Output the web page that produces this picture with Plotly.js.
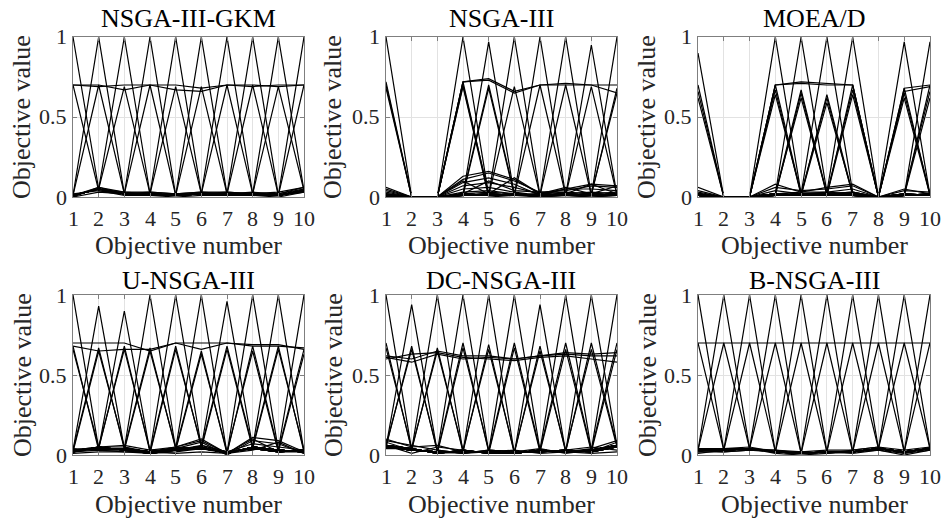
<!DOCTYPE html>
<html>
<head>
<meta charset="utf-8">
<script src="https://cdn.plot.ly/plotly-3.0.1.min.js"></script>
<style>html,body{margin:0;padding:0;background:#fff}#chart{width:945px;height:524px}</style>
</head>
<body>
<div id="chart"></div>
<script>
const objectives = [1, 2, 3, 4, 5, 6, 7, 8, 9, 10];
const objectiveLabels = ['1', '2', '3', '4', '5', '6', '7', '8', '9', '10'];
const valueTicks = [0, 0.5, 1];
const valueLabels = ['0', '0.5', '1'];
const panelTitles = ['NSGA-III-GKM', 'NSGA-III', 'MOEA/D', 'U-NSGA-III', 'DC-NSGA-III', 'B-NSGA-III'];
const xAxisTitle = 'Objective number';
const yAxisTitle = 'Objective value';

const gkmLines = [
  [1.00,0.05,0.02,0.02,0.01,0.02,0.02,0.02,0.01,0.04],
  [0.01,1.00,0.02,0.02,0.01,0.02,0.02,0.02,0.01,0.04],
  [0.01,0.05,1.00,0.02,0.01,0.02,0.02,0.02,0.01,0.04],
  [0.01,0.05,0.02,1.00,0.01,0.02,0.02,0.02,0.01,0.04],
  [0.01,0.05,0.02,0.02,1.00,0.02,0.02,0.02,0.01,0.04],
  [0.01,0.05,0.02,0.02,0.01,1.00,0.02,0.02,0.01,0.04],
  [0.01,0.05,0.02,0.02,0.01,0.02,1.00,0.02,0.01,0.04],
  [0.01,0.05,0.02,0.02,0.01,0.02,0.02,1.00,0.01,0.04],
  [0.01,0.05,0.02,0.02,0.01,0.02,0.02,0.02,1.00,0.04],
  [0.01,0.05,0.02,0.02,0.01,0.02,0.02,0.02,0.01,1.00],
  [0.70,0.04,0.02,0.02,0.01,0.02,0.02,0.02,0.01,0.03],
  [0.01,0.70,0.02,0.02,0.01,0.02,0.02,0.02,0.01,0.04],
  [0.01,0.05,0.69,0.02,0.01,0.02,0.02,0.02,0.01,0.04],
  [0.01,0.05,0.02,0.70,0.01,0.02,0.02,0.02,0.01,0.04],
  [0.01,0.05,0.02,0.02,0.69,0.02,0.02,0.02,0.01,0.04],
  [0.01,0.05,0.02,0.02,0.01,0.69,0.02,0.02,0.01,0.04],
  [0.01,0.05,0.02,0.02,0.01,0.02,0.70,0.02,0.01,0.04],
  [0.01,0.05,0.02,0.02,0.01,0.02,0.02,0.70,0.01,0.04],
  [0.01,0.05,0.02,0.02,0.01,0.02,0.02,0.02,0.69,0.04],
  [0.01,0.05,0.02,0.02,0.01,0.02,0.02,0.02,0.01,0.70],
  [0.70,0.70,0.67,0.70,0.67,0.66,0.70,0.70,0.69,0.70],
  [0.70,0.69,0.70,0.70,0.70,0.68,0.70,0.69,0.70,0.70],
  [0.00,0.06,0.03,0.03,0.02,0.03,0.03,0.02,0.02,0.05],
  [0.02,0.04,0.01,0.01,0.00,0.01,0.01,0.01,0.00,0.03],
  [0.01,0.06,0.02,0.03,0.02,0.02,0.03,0.02,0.03,0.06],
  [0.00,0.03,0.02,0.01,0.01,0.02,0.02,0.01,0.01,0.05],
  [0.01,0.05,0.03,0.02,0.02,0.03,0.02,0.03,0.02,0.06]
];

const nsga3Lines = [
  [1.00,0.00,0.00,0.01,0.02,0.01,0.00,0.01,0.00,0.01],
  [0.00,0.00,0.00,1.00,0.01,0.02,0.01,0.01,0.00,0.01],
  [0.00,0.00,0.00,0.01,0.97,0.01,0.01,0.02,0.01,0.02],
  [0.00,0.00,0.00,0.02,0.01,1.00,0.01,0.01,0.01,0.02],
  [0.00,0.00,0.00,0.01,0.02,0.01,1.00,0.01,0.02,0.01],
  [0.00,0.00,0.00,0.01,0.01,0.02,0.01,1.00,0.01,0.02],
  [0.00,0.00,0.00,0.02,0.01,0.01,0.02,0.01,0.95,0.01],
  [0.00,0.00,0.00,0.01,0.02,0.01,0.01,0.02,0.01,1.00],
  [0.72,0.00,0.00,0.02,0.03,0.02,0.01,0.02,0.01,0.02],
  [0.70,0.00,0.00,0.01,0.02,0.01,0.01,0.01,0.02,0.01],
  [0.68,0.00,0.00,0.02,0.01,0.02,0.00,0.02,0.01,0.02],
  [0.01,0.00,0.00,0.72,0.01,0.02,0.01,0.02,0.01,0.02],
  [0.02,0.00,0.00,0.70,0.02,0.01,0.01,0.01,0.01,0.01],
  [0.00,0.00,0.00,0.69,0.00,0.01,0.01,0.02,0.01,0.02],
  [0.01,0.00,0.00,0.02,0.70,0.02,0.01,0.02,0.01,0.02],
  [0.01,0.00,0.00,0.01,0.68,0.01,0.02,0.01,0.02,0.01],
  [0.01,0.00,0.00,0.02,0.01,0.69,0.01,0.02,0.01,0.02],
  [0.01,0.00,0.00,0.01,0.02,0.01,0.70,0.01,0.02,0.01],
  [0.01,0.00,0.00,0.02,0.01,0.02,0.01,0.70,0.01,0.02],
  [0.01,0.00,0.00,0.01,0.02,0.01,0.02,0.01,0.69,0.01],
  [0.01,0.00,0.00,0.02,0.01,0.02,0.01,0.02,0.01,0.68],
  [0.02,0.00,0.00,0.01,0.02,0.01,0.02,0.01,0.02,0.65],
  [0.02,0.00,0.00,0.72,0.74,0.66,0.70,0.71,0.70,0.70],
  [0.01,0.00,0.00,0.72,0.73,0.65,0.70,0.70,0.70,0.65],
  [0.06,0.00,0.00,0.13,0.16,0.11,0.02,0.05,0.08,0.07],
  [0.05,0.00,0.00,0.11,0.15,0.10,0.03,0.04,0.07,0.06],
  [0.03,0.00,0.00,0.09,0.12,0.08,0.01,0.05,0.05,0.04],
  [0.02,0.00,0.00,0.07,0.09,0.06,0.02,0.03,0.02,0.03],
  [0.01,0.00,0.00,0.05,0.06,0.03,0.01,0.02,0.03,0.02],
  [0.00,0.00,0.00,0.03,0.04,0.02,0.00,0.01,0.01,0.01],
  [0.04,0.00,0.00,0.10,0.02,0.12,0.02,0.06,0.02,0.07],
  [0.01,0.00,0.00,0.02,0.10,0.04,0.03,0.02,0.08,0.02]
];

const moeadLines = [
  [0.90,0.00,0.00,0.01,0.02,0.01,0.01,0.00,0.01,0.01],
  [0.01,0.00,0.00,1.00,0.02,0.02,0.03,0.00,0.01,0.01],
  [0.01,0.00,0.00,0.02,1.00,0.03,0.02,0.00,0.01,0.01],
  [0.01,0.00,0.00,0.02,0.02,1.00,0.03,0.00,0.01,0.01],
  [0.01,0.00,0.00,0.02,0.03,0.03,1.00,0.00,0.01,0.01],
  [0.01,0.00,0.00,0.01,0.02,0.02,0.02,0.00,0.97,0.01],
  [0.01,0.00,0.00,0.01,0.02,0.02,0.02,0.00,0.01,0.97],
  [0.70,0.00,0.00,0.01,0.02,0.01,0.02,0.00,0.01,0.01],
  [0.66,0.00,0.00,0.02,0.01,0.02,0.01,0.00,0.02,0.01],
  [0.62,0.00,0.00,0.01,0.02,0.01,0.02,0.00,0.01,0.02],
  [0.02,0.00,0.00,0.70,0.02,0.01,0.02,0.00,0.01,0.01],
  [0.01,0.00,0.00,0.67,0.01,0.02,0.01,0.00,0.02,0.01],
  [0.02,0.00,0.00,0.64,0.02,0.01,0.02,0.00,0.01,0.02],
  [0.01,0.00,0.00,0.02,0.67,0.02,0.01,0.00,0.01,0.01],
  [0.02,0.00,0.00,0.01,0.65,0.01,0.02,0.00,0.02,0.01],
  [0.01,0.00,0.00,0.02,0.62,0.02,0.01,0.00,0.01,0.02],
  [0.01,0.00,0.00,0.02,0.01,0.64,0.02,0.00,0.01,0.01],
  [0.02,0.00,0.00,0.01,0.02,0.62,0.01,0.00,0.02,0.01],
  [0.01,0.00,0.00,0.02,0.01,0.59,0.02,0.00,0.01,0.02],
  [0.01,0.00,0.00,0.01,0.02,0.01,0.70,0.00,0.01,0.01],
  [0.02,0.00,0.00,0.02,0.01,0.02,0.67,0.00,0.02,0.01],
  [0.01,0.00,0.00,0.01,0.02,0.01,0.64,0.00,0.01,0.02],
  [0.01,0.00,0.00,0.02,0.01,0.02,0.01,0.00,0.68,0.01],
  [0.02,0.00,0.00,0.01,0.02,0.01,0.02,0.00,0.65,0.02],
  [0.01,0.00,0.00,0.02,0.01,0.02,0.01,0.00,0.62,0.01],
  [0.01,0.00,0.00,0.01,0.02,0.01,0.02,0.00,0.01,0.70],
  [0.02,0.00,0.00,0.02,0.01,0.02,0.01,0.00,0.02,0.66],
  [0.01,0.00,0.00,0.01,0.02,0.01,0.02,0.00,0.01,0.62],
  [0.02,0.00,0.00,0.70,0.72,0.71,0.70,0.00,0.02,0.01],
  [0.01,0.00,0.00,0.70,0.71,0.70,0.70,0.00,0.01,0.02],
  [0.01,0.00,0.00,0.02,0.01,0.02,0.02,0.00,0.68,0.70],
  [0.02,0.00,0.00,0.01,0.02,0.01,0.01,0.00,0.66,0.69],
  [0.06,0.00,0.00,0.08,0.03,0.06,0.08,0.00,0.05,0.02],
  [0.04,0.00,0.00,0.06,0.04,0.05,0.07,0.00,0.04,0.03],
  [0.03,0.00,0.00,0.04,0.02,0.03,0.05,0.00,0.02,0.01],
  [0.02,0.00,0.00,0.02,0.01,0.02,0.03,0.00,0.01,0.02]
];

const unsga3Lines = [
  [1.00,0.04,0.04,0.02,0.04,0.05,0.01,0.05,0.03,0.02],
  [0.03,0.93,0.04,0.02,0.04,0.05,0.01,0.05,0.03,0.02],
  [0.03,0.04,0.90,0.02,0.04,0.05,0.01,0.05,0.03,0.02],
  [0.03,0.04,0.04,1.00,0.04,0.05,0.01,0.05,0.03,0.02],
  [0.03,0.04,0.04,0.02,1.00,0.05,0.01,0.05,0.03,0.02],
  [0.03,0.04,0.04,0.02,0.04,1.00,0.01,0.05,0.03,0.02],
  [0.03,0.04,0.04,0.02,0.04,0.05,0.96,0.05,0.03,0.02],
  [0.03,0.04,0.04,0.02,0.04,0.05,0.01,1.00,0.03,0.02],
  [0.03,0.04,0.04,0.02,0.04,0.05,0.01,0.05,1.00,0.02],
  [0.03,0.04,0.04,0.02,0.04,0.05,0.01,0.05,0.03,1.00],
  [0.68,0.03,0.04,0.02,0.04,0.05,0.01,0.05,0.03,0.02],
  [0.66,0.05,0.03,0.01,0.03,0.04,0.02,0.04,0.02,0.03],
  [0.03,0.67,0.04,0.02,0.04,0.05,0.01,0.05,0.03,0.02],
  [0.02,0.65,0.05,0.01,0.03,0.04,0.02,0.04,0.02,0.03],
  [0.03,0.04,0.68,0.02,0.04,0.05,0.01,0.05,0.03,0.02],
  [0.02,0.05,0.66,0.03,0.03,0.04,0.02,0.04,0.02,0.03],
  [0.03,0.04,0.04,0.67,0.04,0.05,0.01,0.05,0.03,0.02],
  [0.02,0.05,0.03,0.65,0.05,0.04,0.02,0.04,0.02,0.03],
  [0.03,0.04,0.04,0.02,0.68,0.05,0.01,0.05,0.03,0.02],
  [0.02,0.05,0.03,0.01,0.66,0.06,0.02,0.04,0.02,0.03],
  [0.03,0.04,0.04,0.02,0.04,0.65,0.01,0.05,0.03,0.02],
  [0.02,0.05,0.03,0.01,0.03,0.63,0.02,0.04,0.02,0.03],
  [0.03,0.04,0.04,0.02,0.04,0.05,0.68,0.05,0.03,0.02],
  [0.02,0.05,0.03,0.01,0.03,0.04,0.66,0.04,0.02,0.03],
  [0.03,0.04,0.04,0.02,0.04,0.05,0.01,0.68,0.03,0.02],
  [0.02,0.05,0.03,0.01,0.03,0.04,0.02,0.65,0.02,0.03],
  [0.03,0.04,0.04,0.02,0.04,0.05,0.01,0.05,0.68,0.02],
  [0.02,0.05,0.03,0.01,0.03,0.04,0.02,0.04,0.66,0.03],
  [0.03,0.04,0.04,0.02,0.04,0.05,0.01,0.05,0.03,0.66],
  [0.02,0.05,0.03,0.01,0.03,0.04,0.02,0.04,0.02,0.63],
  [0.70,0.70,0.70,0.65,0.70,0.70,0.70,0.69,0.69,0.66],
  [0.68,0.65,0.66,0.66,0.70,0.66,0.70,0.68,0.68,0.67],
  [0.03,0.05,0.05,0.02,0.05,0.10,0.01,0.11,0.09,0.02],
  [0.02,0.04,0.04,0.01,0.04,0.08,0.00,0.09,0.07,0.01],
  [0.04,0.03,0.03,0.02,0.03,0.06,0.02,0.07,0.05,0.03],
  [0.01,0.02,0.02,0.01,0.02,0.04,0.01,0.05,0.03,0.02],
  [0.03,0.05,0.06,0.03,0.05,0.09,0.01,0.03,0.08,0.01],
  [0.02,0.03,0.02,0.02,0.01,0.02,0.01,0.10,0.02,0.02]
];

const dcnsga3Lines = [
  [1.00,0.03,0.02,0.02,0.02,0.01,0.03,0.02,0.03,0.06],
  [0.05,0.94,0.02,0.02,0.02,0.01,0.03,0.02,0.03,0.06],
  [0.05,0.03,1.00,0.02,0.02,0.01,0.03,0.02,0.03,0.06],
  [0.05,0.03,0.02,1.00,0.02,0.01,0.03,0.02,0.03,0.06],
  [0.05,0.03,0.02,0.02,1.00,0.01,0.03,0.02,0.03,0.06],
  [0.05,0.03,0.02,0.02,0.02,1.00,0.03,0.02,0.03,0.06],
  [0.05,0.03,0.02,0.02,0.02,0.01,0.94,0.02,0.03,0.06],
  [0.05,0.03,0.02,0.02,0.02,0.01,0.03,1.00,0.03,0.06],
  [0.05,0.03,0.02,0.02,0.02,0.01,0.03,0.02,1.00,0.06],
  [0.05,0.03,0.02,0.02,0.02,0.01,0.03,0.02,0.03,1.00],
  [0.70,0.03,0.02,0.02,0.02,0.01,0.03,0.02,0.03,0.06],
  [0.67,0.04,0.01,0.03,0.01,0.02,0.02,0.03,0.02,0.05],
  [0.05,0.68,0.02,0.02,0.02,0.01,0.03,0.02,0.03,0.06],
  [0.06,0.66,0.03,0.01,0.03,0.02,0.02,0.03,0.02,0.05],
  [0.05,0.03,0.67,0.02,0.02,0.01,0.03,0.02,0.03,0.06],
  [0.06,0.04,0.65,0.03,0.01,0.02,0.02,0.03,0.02,0.05],
  [0.05,0.03,0.02,0.70,0.02,0.01,0.03,0.02,0.03,0.06],
  [0.06,0.04,0.01,0.67,0.03,0.02,0.02,0.03,0.02,0.05],
  [0.05,0.03,0.02,0.02,0.69,0.01,0.03,0.02,0.03,0.06],
  [0.06,0.04,0.01,0.03,0.66,0.02,0.02,0.03,0.02,0.05],
  [0.05,0.03,0.02,0.02,0.02,0.70,0.03,0.02,0.03,0.06],
  [0.06,0.04,0.01,0.03,0.01,0.67,0.02,0.03,0.02,0.05],
  [0.05,0.03,0.02,0.02,0.02,0.01,0.68,0.02,0.03,0.06],
  [0.06,0.04,0.01,0.03,0.01,0.02,0.65,0.03,0.02,0.05],
  [0.05,0.03,0.02,0.02,0.02,0.01,0.03,0.70,0.03,0.06],
  [0.06,0.04,0.01,0.03,0.01,0.02,0.02,0.66,0.02,0.05],
  [0.05,0.03,0.02,0.02,0.02,0.01,0.03,0.02,0.70,0.06],
  [0.06,0.04,0.01,0.03,0.01,0.02,0.02,0.03,0.66,0.05],
  [0.05,0.03,0.02,0.02,0.02,0.01,0.03,0.02,0.03,0.70],
  [0.06,0.04,0.01,0.03,0.01,0.02,0.02,0.03,0.02,0.66],
  [0.62,0.60,0.65,0.62,0.62,0.60,0.62,0.64,0.63,0.64],
  [0.60,0.63,0.64,0.61,0.60,0.59,0.61,0.62,0.60,0.58],
  [0.61,0.58,0.63,0.60,0.61,0.60,0.62,0.63,0.62,0.62],
  [0.10,0.05,0.06,0.02,0.02,0.01,0.03,0.02,0.04,0.09],
  [0.08,0.03,0.02,0.01,0.03,0.02,0.04,0.01,0.03,0.06],
  [0.06,0.01,0.05,0.03,0.01,0.02,0.02,0.03,0.05,0.03],
  [0.04,0.04,0.01,0.02,0.02,0.01,0.03,0.02,0.01,0.02],
  [0.09,0.06,0.03,0.01,0.02,0.03,0.01,0.02,0.02,0.08]
];

const bnsga3Lines = [
  [1.00,0.03,0.04,0.02,0.01,0.02,0.02,0.04,0.02,0.04],
  [0.03,1.00,0.04,0.02,0.01,0.02,0.02,0.04,0.02,0.04],
  [0.03,0.03,1.00,0.02,0.01,0.02,0.02,0.04,0.02,0.04],
  [0.03,0.03,0.04,1.00,0.01,0.02,0.02,0.04,0.02,0.04],
  [0.03,0.03,0.04,0.02,1.00,0.02,0.02,0.04,0.02,0.04],
  [0.03,0.03,0.04,0.02,0.01,1.00,0.02,0.04,0.02,0.04],
  [0.03,0.03,0.04,0.02,0.01,0.02,1.00,0.04,0.02,0.04],
  [0.03,0.03,0.04,0.02,0.01,0.02,0.02,1.00,0.02,0.04],
  [0.03,0.03,0.04,0.02,0.01,0.02,0.02,0.04,1.00,0.04],
  [0.03,0.03,0.04,0.02,0.01,0.02,0.02,0.04,0.02,1.00],
  [0.70,0.03,0.04,0.02,0.01,0.02,0.02,0.04,0.02,0.04],
  [0.03,0.70,0.04,0.02,0.01,0.02,0.02,0.04,0.02,0.04],
  [0.03,0.03,0.70,0.02,0.01,0.02,0.02,0.04,0.02,0.04],
  [0.03,0.03,0.04,0.70,0.01,0.02,0.02,0.04,0.02,0.04],
  [0.03,0.03,0.04,0.02,0.70,0.02,0.02,0.04,0.02,0.04],
  [0.03,0.03,0.04,0.02,0.01,0.70,0.02,0.04,0.02,0.04],
  [0.03,0.03,0.04,0.02,0.01,0.02,0.70,0.04,0.02,0.04],
  [0.03,0.03,0.04,0.02,0.01,0.02,0.02,0.70,0.02,0.04],
  [0.03,0.03,0.04,0.02,0.01,0.02,0.02,0.04,0.70,0.04],
  [0.03,0.03,0.04,0.02,0.01,0.02,0.02,0.04,0.02,0.70],
  [0.70,0.70,0.70,0.70,0.70,0.70,0.70,0.70,0.70,0.70],
  [0.02,0.02,0.03,0.03,0.01,0.02,0.02,0.03,0.01,0.03],
  [0.04,0.04,0.05,0.02,0.02,0.03,0.03,0.05,0.03,0.05],
  [0.01,0.03,0.04,0.01,0.00,0.01,0.02,0.04,0.02,0.04],
  [0.03,0.02,0.03,0.02,0.01,0.02,0.01,0.03,0.00,0.03],
  [0.02,0.04,0.04,0.03,0.02,0.01,0.03,0.05,0.01,0.05]
];

const panelLines = [gkmLines, nsga3Lines, moeadLines, unsga3Lines, dcnsga3Lines, bnsga3Lines];

const W = 945, H = 524;
const colPx = [[73, 304], [386, 617], [698, 930]];
const rowPx = [[37, 197], [295, 455]];
const titleY = [18, 280];
const xTitleY = [246, 504];
const yTitleX = [22, 333, 647];
const FONT = 'Liberation Serif';
const TXT = '#262626';
const AX = '#7f7f7f';

const traces = [];
const layout = {
  width: W, height: H,
  margin: {l: 0, r: 0, t: 0, b: 0},
  paper_bgcolor: '#ffffff', plot_bgcolor: '#ffffff',
  showlegend: false,
  font: {family: FONT, color: TXT, size: 22},
  annotations: []
};

function axisBase() {
  return {
    showline: true, linecolor: AX, linewidth: 1, mirror: 'ticks',
    ticks: 'inside', ticklen: 4, tickcolor: AX, tickwidth: 1,
    showgrid: true, gridcolor: '#e2e2e2', gridwidth: 1, zeroline: false,
    showticklabels: false, fixedrange: true
  };
}
function txtFont(size, color) { return {family: FONT, size: size, color: color || TXT}; }

panelLines.forEach((lines, i) => {
  const r = Math.floor(i / 3), c = i % 3;
  const n = i + 1;
  const sfx = n === 1 ? '' : String(n);
  const xs = [], ys = [];
  lines.forEach(row => {
    objectives.forEach((o, k) => { xs.push(o); ys.push(row[k]); });
    xs.push(null); ys.push(null);
  });
  traces.push({
    type: 'scatter', mode: 'lines', x: xs, y: ys,
    xaxis: 'x' + sfx, yaxis: 'y' + sfx,
    line: {color: '#000000', width: 1.2}, hoverinfo: 'skip'
  });
  const xd = [colPx[c][0] / W, colPx[c][1] / W];
  const yd = [1 - rowPx[r][1] / H, 1 - rowPx[r][0] / H];
  layout['xaxis' + sfx] = Object.assign(axisBase(), {
    domain: xd, range: [1, 10], tickvals: objectives, anchor: 'y' + sfx
  });
  layout['yaxis' + sfx] = Object.assign(axisBase(), {
    domain: yd, range: [0, 1], tickvals: valueTicks, anchor: 'x' + sfx
  });
  // x tick labels
  objectives.forEach((o, k) => {
    layout.annotations.push({
      text: objectiveLabels[k], xref: 'x' + sfx, yref: 'y' + sfx, x: o, y: 0,
      xanchor: 'center', yanchor: 'middle', yshift: -21, showarrow: false,
      font: txtFont(22)
    });
  });
  // y tick labels
  valueTicks.forEach((v, k) => {
    layout.annotations.push({
      text: valueLabels[k], xref: 'x' + sfx, yref: 'y' + sfx, x: 1, y: v,
      xanchor: 'right', yanchor: 'middle', xshift: -4, showarrow: false,
      font: txtFont(22)
    });
  });
  // axis titles
  layout.annotations.push({
    text: xAxisTitle, xref: 'paper', yref: 'paper',
    x: (xd[0] + xd[1]) / 2, y: 1 - xTitleY[r] / H,
    xanchor: 'center', yanchor: 'middle', showarrow: false, font: txtFont(26)
  });
  layout.annotations.push({
    text: yAxisTitle, xref: 'paper', yref: 'paper', textangle: -90,
    x: yTitleX[c] / W, y: (yd[0] + yd[1]) / 2,
    xanchor: 'center', yanchor: 'middle', showarrow: false, font: txtFont(26)
  });
  // panel title
  layout.annotations.push({
    text: panelTitles[i], xref: 'paper', yref: 'paper',
    x: (xd[0] + xd[1]) / 2, y: 1 - titleY[r] / H,
    xanchor: 'center', yanchor: 'middle', showarrow: false,
    font: txtFont(26, '#000000')
  });
});

Plotly.newPlot('chart', traces, layout, {displayModeBar: false, staticPlot: true});
</script>
</body>
</html>
